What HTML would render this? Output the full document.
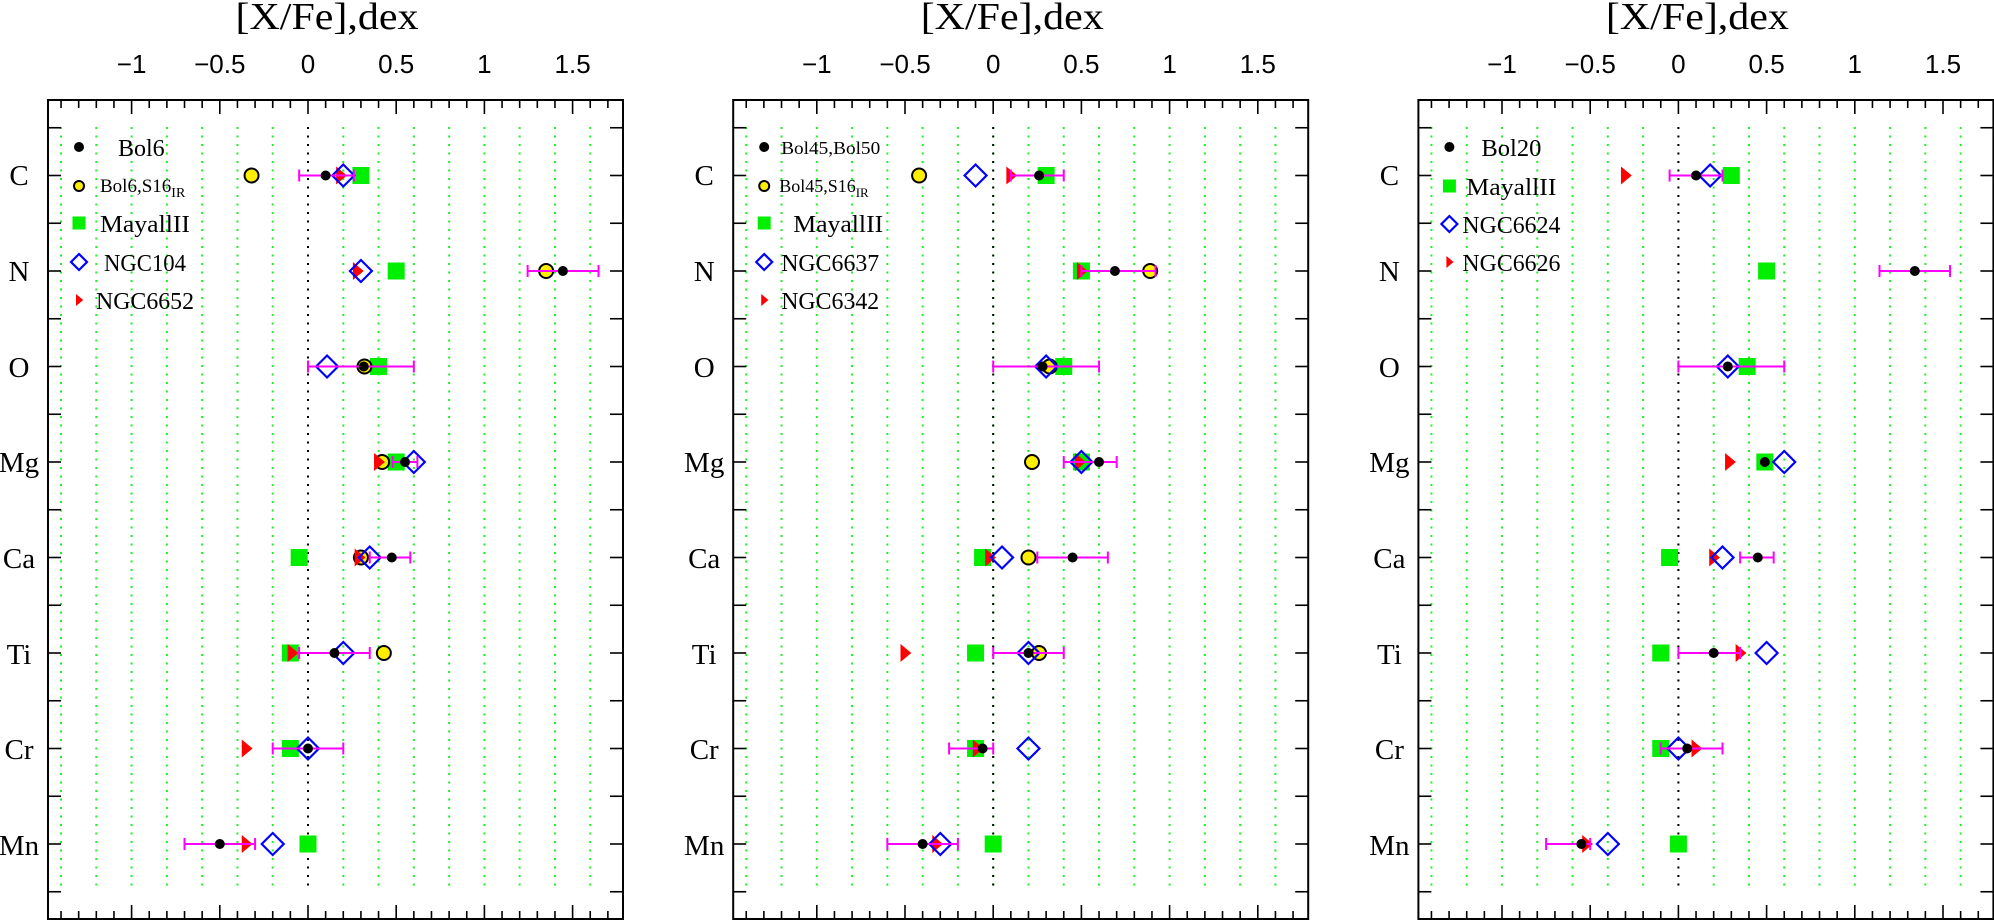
<!DOCTYPE html>
<html><head><meta charset="utf-8"><style>
html,body{margin:0;padding:0;background:#fff;}
svg{display:block;}
.t{font-family:"Liberation Serif",serif;}
.s{font-family:"Liberation Sans",sans-serif;}
</style></head><body>
<svg id="c" width="1994" height="921" viewBox="0 0 1994 921" xmlns="http://www.w3.org/2000/svg">
<g id="p0" transform="translate(0,0)">
 <text class="t" x="327" y="29" font-size="38" text-anchor="middle" textLength="183" lengthAdjust="spacingAndGlyphs">[X/Fe],dex</text>
 <g class="s" font-size="26" text-anchor="middle">
  <text x="131.6" y="73">−1</text><text x="219.8" y="73">−0.5</text><text x="308" y="73">0</text><text x="396.2" y="73">0.5</text><text x="484.4" y="73">1</text><text x="572.6" y="73">1.5</text>
 </g>
 <g class="t" font-size="29" text-anchor="middle">
  <text x="19" y="185">C</text><text x="19" y="281">N</text><text x="19" y="377">O</text><text x="19" y="472">Mg</text><text x="19" y="568">Ca</text><text x="19" y="664">Ti</text><text x="19" y="759">Cr</text><text x="19" y="855">Mn</text>
 </g>
 <g class="t">
  <text x="118" y="156" font-size="24">Bol6</text>
  <text x="100" y="192" font-size="19">Bol6,S16<tspan font-size="14" dy="5">IR</tspan></text>
  <text x="100" y="232" font-size="24" textLength="90" lengthAdjust="spacingAndGlyphs">MayallII</text>
  <text x="104" y="271" font-size="24" textLength="82" lengthAdjust="spacingAndGlyphs">NGC104</text>
  <text x="96" y="309" font-size="24" textLength="98" lengthAdjust="spacingAndGlyphs">NGC6652</text>
 </g>
</g>
<g id="p1" transform="translate(685.2,0)">
 <text class="t" x="327" y="29" font-size="38" text-anchor="middle" textLength="183" lengthAdjust="spacingAndGlyphs">[X/Fe],dex</text>
 <g class="s" font-size="26" text-anchor="middle">
  <text x="131.6" y="73">−1</text><text x="219.8" y="73">−0.5</text><text x="308" y="73">0</text><text x="396.2" y="73">0.5</text><text x="484.4" y="73">1</text><text x="572.6" y="73">1.5</text>
 </g>
 <g class="t" font-size="29" text-anchor="middle">
  <text x="19" y="185">C</text><text x="19" y="281">N</text><text x="19" y="377">O</text><text x="19" y="472">Mg</text><text x="19" y="568">Ca</text><text x="19" y="664">Ti</text><text x="19" y="759">Cr</text><text x="19" y="855">Mn</text>
 </g>
 <g class="t">
  <text x="96" y="154" font-size="18" textLength="99" lengthAdjust="spacingAndGlyphs">Bol45,Bol50</text>
  <text x="94" y="192" font-size="18">Bol45,S16<tspan font-size="13" dy="5">IR</tspan></text>
  <text x="108" y="232" font-size="24" textLength="90" lengthAdjust="spacingAndGlyphs">MayallII</text>
  <text x="96" y="271" font-size="24" textLength="98" lengthAdjust="spacingAndGlyphs">NGC6637</text>
  <text x="96" y="309" font-size="24" textLength="98" lengthAdjust="spacingAndGlyphs">NGC6342</text>
 </g>
</g>
<g id="p2" transform="translate(1370.4,0)">
 <text class="t" x="327" y="29" font-size="38" text-anchor="middle" textLength="183" lengthAdjust="spacingAndGlyphs">[X/Fe],dex</text>
 <g class="s" font-size="26" text-anchor="middle">
  <text x="131.6" y="73">−1</text><text x="219.8" y="73">−0.5</text><text x="308" y="73">0</text><text x="396.2" y="73">0.5</text><text x="484.4" y="73">1</text><text x="572.6" y="73">1.5</text>
 </g>
 <g class="t" font-size="29" text-anchor="middle">
  <text x="19" y="185">C</text><text x="19" y="281">N</text><text x="19" y="377">O</text><text x="19" y="472">Mg</text><text x="19" y="568">Ca</text><text x="19" y="664">Ti</text><text x="19" y="759">Cr</text><text x="19" y="855">Mn</text>
 </g>
 <g class="t">
  <text x="111" y="156" font-size="24" textLength="60" lengthAdjust="spacingAndGlyphs">Bol20</text>
  <text x="96" y="195" font-size="24" textLength="90" lengthAdjust="spacingAndGlyphs">MayallII</text>
  <text x="92" y="233" font-size="24" textLength="98" lengthAdjust="spacingAndGlyphs">NGC6624</text>
  <text x="92" y="271" font-size="24" textLength="98" lengthAdjust="spacingAndGlyphs">NGC6626</text>
 </g>
</g>
</svg>
<script>
(function(){
var NS="http://www.w3.org/2000/svg";
function el(p,n,a){var e=document.createElementNS(NS,n);for(var k in a)e.setAttribute(k,a[k]);p.appendChild(e);return e;}
var X0=308,SC=176.4,L=48,R=623,T=100,B=919,Y0=175.5,DY=95.5;
function X(v){return X0+v*SC;}
function Y(i){return Y0+i*DY;}
function sq(g,x,y,s){el(g,"rect",{x:x-s/2,y:y-s/2,width:s,height:s,fill:"#00ee00"});}
function yc(g,x,y,r){el(g,"circle",{cx:x,cy:y,r:r,fill:"#ffee00",stroke:"#000","stroke-width":2});}
function dm(g,x,y,r){el(g,"polygon",{points:(x-r)+","+y+" "+x+","+(y-r)+" "+(x+r)+","+y+" "+x+","+(y+r),fill:"none",stroke:"#0000ff","stroke-width":2.2});}
function tr(g,x,y,h){el(g,"polygon",{points:(x-h*0.25)+","+(y-h/2)+" "+(x+h*0.35)+","+y+" "+(x-h*0.25)+","+(y+h/2),fill:"#ff0000"});}
function bd(g,x,y,r){el(g,"circle",{cx:x,cy:y,r:r,fill:"#000"});}
function eb(g,a,b,y){el(g,"line",{x1:X(a),x2:X(b),y1:y,y2:y,stroke:"#ff00ff","stroke-width":2});
 el(g,"line",{x1:X(a),x2:X(a),y1:y-6,y2:y+6,stroke:"#ff00ff","stroke-width":2});
 el(g,"line",{x1:X(b),x2:X(b),y1:y-6,y2:y+6,stroke:"#ff00ff","stroke-width":2});}
var D=[
[[0.30,-0.32,0.20,0.185,0.10,-0.05,0.26],[0.50,1.35,0.30,0.28,1.445,1.245,1.647],[0.40,0.32,0.108,null,0.316,0,0.6],[0.50,0.42,0.60,0.40,0.55,0.48,0.62],[-0.05,0.30,0.35,0.29,0.475,0.35,0.58],[-0.10,0.43,0.20,-0.09,0.15,-0.05,0.35],[-0.10,null,0,-0.35,0,-0.2,0.2],[0,null,-0.2,-0.35,-0.5,-0.7,-0.3]],
[[0.30,-0.42,-0.10,0.10,0.26,0.10,0.40],[0.50,0.89,null,0.50,0.69,0.50,0.92],[0.40,0.32,0.30,null,0.28,0,0.6],[0.50,0.22,0.50,0.49,0.60,0.40,0.70],[-0.06,0.20,0.05,-0.02,0.45,0.25,0.65],[-0.10,0.26,0.20,-0.50,0.20,0,0.40],[-0.10,null,0.20,-0.09,-0.06,-0.25,0],[0,null,-0.30,-0.32,-0.40,-0.60,-0.20]],
[[0.30,null,0.18,-0.30,0.10,-0.05,0.25],[0.50,null,null,null,1.34,1.14,1.54],[0.39,null,0.28,null,0.28,0,0.6],[0.49,null,0.60,0.29,0.49,null,null],[-0.05,null,0.25,0.20,0.45,0.35,0.54],[-0.10,null,0.50,0.35,0.20,0,0.35],[-0.10,null,0,0.10,0.05,-0.10,0.25],[0,null,-0.40,-0.52,-0.55,-0.75,-0.50]]
];
var leg=[[["bd",147],["yc",186],["sq",223],["dm",262],["tr",300]],[["bd",147],["yc",186],["sq",223],["dm",262],["tr",300]],[["bd",147],["sq",186],["dm",224],["tr",262]]];
for(var p=0;p<3;p++){
 var g=document.getElementById("p"+p);
 var gg=document.createElementNS(NS,"g");g.insertBefore(gg,g.firstChild);
 for(var v=-1.4;v<1.65;v+=0.2){var x=X(v);
  el(gg,"line",{x1:x,x2:x,y1:127,y2:887,stroke:"#22ee22","stroke-width":2,"stroke-dasharray":"2 6.5"});}
 el(gg,"line",{x1:X(0),x2:X(0),y1:127,y2:887,stroke:"#000","stroke-width":2,"stroke-dasharray":"2 6.5"});
 el(gg,"rect",{x:L,y:T,width:R-L,height:B-T,fill:"none",stroke:"#000","stroke-width":2});
 for(var k=-14;k<=17;k++){var x=X(k/10),len=(k%5==0)?14:8;
  el(gg,"line",{x1:x,x2:x,y1:T,y2:T+len,stroke:"#000","stroke-width":1.6});
  el(gg,"line",{x1:x,x2:x,y1:B,y2:B-len,stroke:"#000","stroke-width":1.6});}
 for(var k=-1;k<=16;k++){var y=Y0-DY/2+k*DY/2,len=13;
  if(y<T||y>B)continue;
  el(gg,"line",{x1:L,x2:L+len,y1:y,y2:y,stroke:"#000","stroke-width":1.6});
  el(gg,"line",{x1:R,x2:R-len,y1:y,y2:y,stroke:"#000","stroke-width":1.6});}
 for(var i=0;i<8;i++){var r=D[p][i],y=Y(i);
  if(r[0]!=null)sq(gg,X(r[0]),y,17);
  if(r[1]!=null)yc(gg,X(r[1]),y,7);
  if(r[3]!=null)tr(gg,X(r[3]),y,18);
  if(r[2]!=null)dm(gg,X(r[2]),y,11);
  if(r[5]!=null)eb(gg,r[5],r[6],y);
  if(r[4]!=null)bd(gg,X(r[4]),y,5);
 }
 leg[p].forEach(function(q){var x=79,y=q[1];
  if(q[0]=="bd")bd(gg,x,y,5);if(q[0]=="yc")yc(gg,x,y,5);if(q[0]=="sq")sq(gg,x,y,13);
  if(q[0]=="dm")dm(gg,x,y,8);if(q[0]=="tr")tr(gg,x,y,12);});
}
})();
</script>
</body></html>
